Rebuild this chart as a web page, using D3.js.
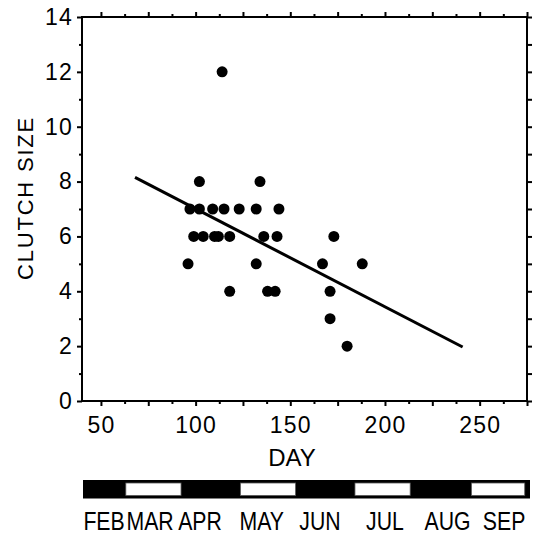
<!DOCTYPE html>
<html><head><meta charset="utf-8">
<script src="https://cdn.jsdelivr.net/npm/d3@7"></script>
<style>
html,body{margin:0;padding:0;background:#fff;}
svg{display:block;}
text{fill:#000;}
</style></head>
<body>
<svg id="chart" width="537" height="537"></svg>
<script>
// ---- data ----
const days    = [114, 102,134, 97,102,109,115,123,132,144, 99,104,110,112,118,136,143,173, 96,132,167,188, 118,138,142,171, 171, 180];
const clutch  = [12,  8,8,     7,7,7,7,7,7,7,              6,6,6,6,6,6,6,6,                 5,5,5,5,             4,4,4,4,           3,   2];
const fitDays   = [68, 241];
const fitValues = [8.15, 1.97];
const xTickLabels = [50, 100, 150, 200, 250];
const yTickLabels = [0, 2, 4, 6, 8, 10, 12, 14];
const monthNames  = ["FEB","MAR","APR","MAY","JUN","JUL","AUG","SEP","OCT"];
const monthStart  = [38, 60, 91, 121, 152, 182, 213, 244, 274];
const monthEnd    = [60, 91, 121, 152, 182, 213, 244, 274, 276];
const monthLabelDay = [49.2, 73.7, 100.3, 133.2, 164.2, 198.8, 232.1, 262.2];

// ---- layout ----
const svg = d3.select("#chart");
const L = 82, R = 527, T = 17, B = 401;
const x = d3.scaleLinear().domain([40, 275]).range([L, R]);
const y = d3.scaleLinear().domain([0, 14]).range([B, T]);
const xBar = d3.scaleLinear().domain([38, 276]).range([83, 530]);

const xTicks = d3.range(50, 275.1, 12.5);
const yTicks = d3.range(0, 14.1, 1);
const font = "'Liberation Sans', Arial, Helvetica, sans-serif";

function styleAxis(g){
  g.select(".domain").remove();
  g.selectAll(".tick line").attr("stroke","#000").attr("stroke-width",2);
  g.selectAll(".tick text").attr("font-family",font).attr("font-size",23).attr("fill","#000");
}

// bottom
svg.append("g").attr("transform",`translate(0,${B})`)
  .call(d3.axisBottom(x).tickValues(xTicks).tickSize(5).tickPadding(11)
    .tickFormat(d => xTickLabels.includes(d) ? d : ""))
  .call(styleAxis)
  .call(g => g.selectAll(".tick line").attr("y2", d => d % 25 === 0 ? 5 : 3))
  .call(g => g.selectAll(".tick text").attr("letter-spacing", 1.2));
// top
svg.append("g").attr("transform",`translate(0,${T})`)
  .call(d3.axisTop(x).tickValues(xTicks).tickSize(5).tickFormat(""))
  .call(styleAxis)
  .call(g => g.selectAll(".tick line").attr("y2", d => d % 25 === 0 ? -5 : -3));
// left
svg.append("g").attr("transform",`translate(${L},0)`)
  .call(d3.axisLeft(y).tickValues(yTicks).tickSize(5).tickPadding(4)
    .tickFormat(d => yTickLabels.includes(d) ? d : ""))
  .call(styleAxis)
  .call(g => g.selectAll(".tick line").attr("x2", d => d % 2 === 0 ? -5 : -3))
  .call(g => g.selectAll(".tick text").attr("letter-spacing", 1.2));
// right
svg.append("g").attr("transform",`translate(${R},0)`)
  .call(d3.axisRight(y).tickValues(yTicks).tickSize(5).tickFormat(""))
  .call(styleAxis);

// frame
svg.append("rect").attr("x",L).attr("y",T).attr("width",R-L).attr("height",B-T)
  .attr("fill","none").attr("stroke","#000").attr("stroke-width",2);

// regression line
svg.append("line")
  .attr("x1",x(fitDays[0])).attr("y1",y(fitValues[0]))
  .attr("x2",x(fitDays[1])).attr("y2",y(fitValues[1]))
  .attr("stroke","#000").attr("stroke-width",3);

// points
svg.append("g").selectAll("circle").data(days.map((d,i)=>[d,clutch[i]])).join("circle")
  .attr("cx",d=>x(d[0])).attr("cy",d=>y(d[1])).attr("r",5.5).attr("fill","#000");

// axis titles
svg.append("text").attr("transform","translate(33,198) rotate(-90)")
  .attr("text-anchor","middle").attr("font-family",font).attr("font-size",22)
  .attr("letter-spacing",1.8).text("CLUTCH SIZE");
svg.append("text").attr("x",292).attr("y",466).attr("text-anchor","middle")
  .attr("font-family",font).attr("font-size",24).text("DAY");

// month bar
const barY0 = 480, barY1 = 498.5;
svg.append("rect").attr("x",xBar(monthStart[0])).attr("y",barY0)
  .attr("width",xBar(monthEnd[monthEnd.length-1])-xBar(monthStart[0])).attr("height",barY1-barY0)
  .attr("fill","#000");
svg.append("g").selectAll("rect").data(monthNames.map((m,i)=>i).filter(i=>i%2===1)).join("rect")
  .attr("x",i=>xBar(monthStart[i])+1.5).attr("y",barY0+3)
  .attr("width",i=>xBar(monthEnd[i])-xBar(monthStart[i])-3).attr("height",barY1-barY0-6)
  .attr("fill","#fff").attr("stroke","#555").attr("stroke-width",0.8);
svg.append("g").selectAll("text").data(monthLabelDay).join("text")
  .attr("transform",d=>`translate(${xBar(d)},530) scale(0.85,1)`).attr("text-anchor","middle")
  .attr("font-family",font).attr("font-size",25)
  .text((d,i)=>monthNames[i]);
</script>
</body></html>
